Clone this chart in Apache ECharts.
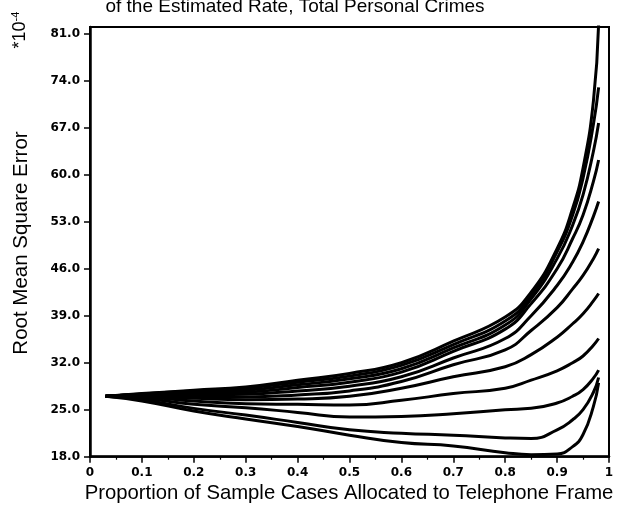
<!DOCTYPE html>
<html>
<head>
<meta charset="utf-8">
<script src="https://cdn.jsdelivr.net/npm/echarts@6/dist/echarts.min.js"></script>
<style>html,body{margin:0;padding:0;background:#fff}#c{width:617px;height:507px}</style>
</head>
<body>
<div id="c"></div>
<script>
// Proportion of sample cases allocated to telephone frame
const xs = [0.03, 0.1, 0.2, 0.3, 0.4, 0.5, 0.6, 0.7, 0.8, 0.85, 0.9, 0.93, 0.95, 0.97, 0.98];
// Root mean square error (*10^-4), one array per curve (top to bottom at the right end)
const curveA = [27.0, 27.4, 27.9, 28.4, 29.4, 30.4, 32.0, 35.2, 38.8, 42.5, 49.0, 55.0, 61.0, 71.0, 82.5];
const curveB = [27.0, 27.35, 27.8, 28.2, 29.1, 30.0, 31.6, 34.7, 38.2, 42.0, 48.5, 54.0, 59.5, 67.5, 73.0];
const curveC = [27.0, 27.3, 27.6, 27.9, 28.7, 29.6, 31.1, 34.2, 37.6, 41.5, 47.5, 52.5, 57.0, 63.5, 67.7];
const curveD = [27.0, 27.25, 27.4, 27.6, 28.3, 29.1, 30.6, 33.7, 37.0, 40.8, 46.0, 50.5, 54.0, 59.0, 62.2];
const curveE = [27.0, 27.2, 27.2, 27.3, 27.8, 28.5, 29.9, 32.7, 35.6, 39.0, 43.5, 47.0, 50.0, 53.8, 56.0];
const curveF = [27.0, 27.1, 27.0, 26.9, 27.2, 27.8, 29.2, 31.7, 33.9, 36.8, 40.2, 43.0, 45.0, 47.5, 49.0];
const curveG = [27.0, 27.0, 26.7, 26.5, 26.6, 27.0, 28.2, 29.9, 31.4, 33.2, 35.8, 37.8, 39.3, 41.2, 42.3];
const curveH = [27.0, 26.9, 26.3, 25.9, 25.8, 25.7, 26.4, 27.4, 28.2, 29.4, 30.8, 32.0, 33.0, 34.6, 35.6];
const curveI = [27.0, 26.7, 25.8, 25.3, 24.6, 23.9, 24.0, 24.4, 25.0, 25.2, 26.0, 27.0, 28.0, 29.7, 30.9];
const curveJ = [27.0, 26.5, 25.2, 24.2, 23.1, 22.0, 21.5, 21.2, 20.8, 20.7, 22.0, 23.5, 25.0, 27.6, 29.8];
const curveK = [27.0, 26.3, 24.8, 23.6, 22.5, 21.2, 20.1, 19.6, 18.6, 18.3, 18.4, 19.5, 21.3, 25.5, 29.0];
const curves = [curveA, curveB, curveC, curveD, curveE, curveF, curveG, curveH, curveI, curveJ, curveK];
// Axis ticks
const yTicks = [18, 25, 32, 39, 46, 53, 60, 67, 74, 81];
const xTicks = [0, 0.1, 0.2, 0.3, 0.4, 0.5, 0.6, 0.7, 0.8, 0.9, 1];

const titleText = 'of the Estimated Rate, Total Personal Crimes';
const xName = 'Proportion of Sample Cases Allocated to Telephone Frame';
const yName = 'Root Mean Square Error';

const chart = echarts.init(document.getElementById('c'), null, {renderer: 'canvas'});
const labelFont = {color: '#000', fontFamily: 'DejaVu Sans', fontWeight: 'bold', fontSize: 12};

chart.setOption({
  animation: false,
  backgroundColor: '#fff',
  grid: {left: 90, right: 8, top: 27, bottom: 50.3, show: true, borderColor: '#000', borderWidth: 2, backgroundColor: 'transparent'},
  xAxis: {
    type: 'value', min: 0, max: 1, interval: 0.1,
    axisLine: {show: true, onZero: false, lineStyle: {color: '#000', width: 2.5}},
    axisTick: {show: true, inside: false, length: 6, lineStyle: {color: '#000', width: 1.5}},
    minorTick: {show: true, splitNumber: 2, length: 3, lineStyle: {color: '#000', width: 1.2}},
    splitLine: {show: false},
    axisLabel: Object.assign({margin: 10, customValues: xTicks, formatter: v => String(v)}, labelFont)
  },
  yAxis: {
    type: 'value', min: 18, max: 82, interval: 7,
    axisLine: {show: true, onZero: false, lineStyle: {color: '#000', width: 2.5}},
    axisTick: {show: true, inside: false, length: 6, customValues: yTicks, lineStyle: {color: '#000', width: 1.5}},
    splitLine: {show: false},
    axisLabel: Object.assign({margin: 10, customValues: yTicks, formatter: v => v.toFixed(1)}, labelFont)
  },
  graphic: [
    {type: 'text', x: 295, y: 7, style: {text: titleText, fill: '#000', font: '19px "Liberation Sans"', align: 'center', verticalAlign: 'middle'}},
    {type: 'text', x: 21, y: 243, rotation: Math.PI / 2, style: {text: yName, fill: '#000', font: '20.5px "Liberation Sans"', align: 'center', verticalAlign: 'middle'}},
    {type: 'text', x: 349, y: 493, style: {text: xName, fill: '#000', font: '20.3px "Liberation Sans"', align: 'center', verticalAlign: 'middle'}},
    {type: 'text', x: 20, y: 30, rotation: Math.PI / 2, style: {
      text: '*10{sup|-4}', fill: '#000', font: '18px "Liberation Sans"', align: 'center', verticalAlign: 'middle',
      rich: {sup: {fontSize: 11, fontFamily: 'Liberation Sans', fill: '#000', verticalAlign: 'top', lineHeight: 20}}
    }}
  ],
  series: curves.map((c, k) => ({
    type: 'line', name: 'curve' + k, data: xs.map((x, i) => [x, c[i]]),
    showSymbol: false, smooth: 0.5, clip: true,
    lineStyle: {color: '#000', width: 3}, silent: true
  }))
});
</script>
</body>
</html>
